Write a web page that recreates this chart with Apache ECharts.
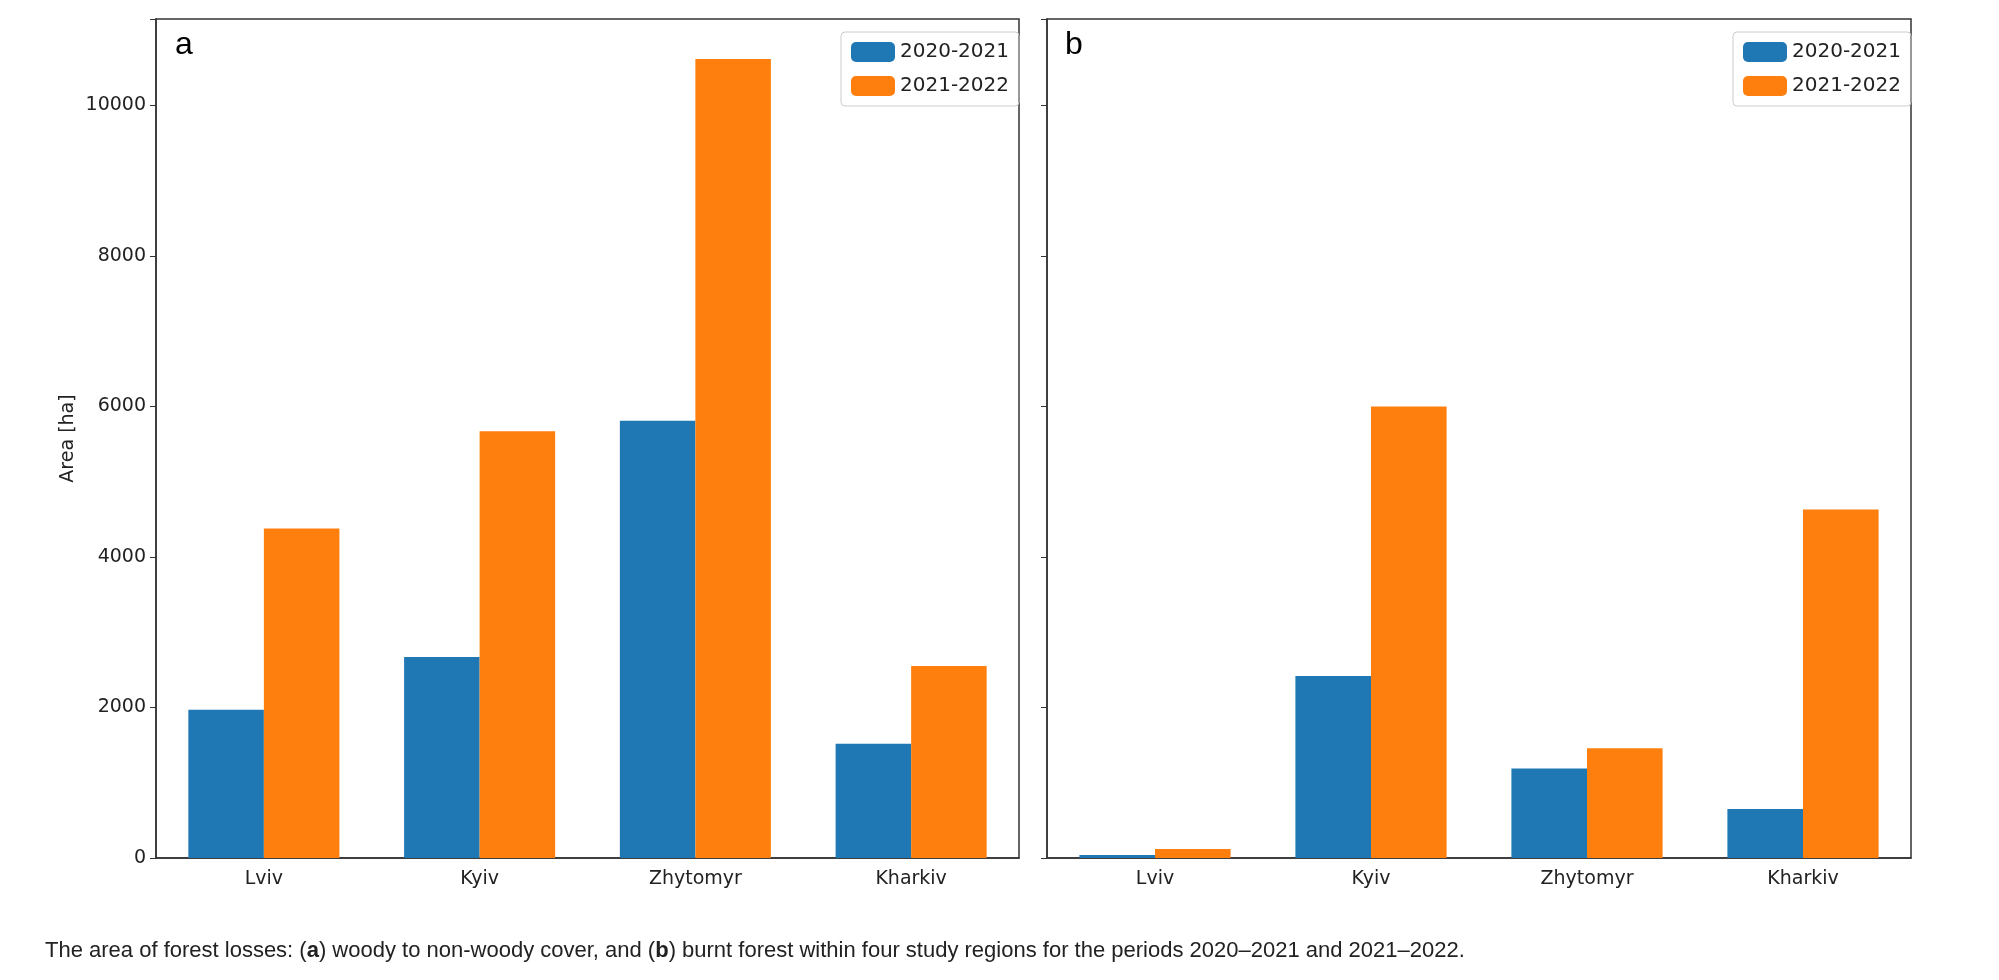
<!DOCTYPE html>
<html>
<head>
<meta charset="utf-8">
<script src="https://cdn.jsdelivr.net/npm/echarts@6/dist/echarts.min.js"></script>
<style>
  body { margin: 0; background: #fff; }
  #chart { width: 1999px; height: 980px; }
</style>
</head>
<body>
<div id="chart"></div>
<script>
// regions and periods
var regions = ['Lviv', 'Kyiv', 'Zhytomyr', 'Kharkiv'];
var periods = ['2020-2021', '2021-2022'];
// (a) woody to non-woody
var woody2021 = [1970, 2670, 5810, 1520];
var woody2022 = [4380, 5670, 10620, 2550];
// (b) burnt forest
var burnt2021 = [40, 2420, 1190, 650];
var burnt2022 = [120, 6000, 1460, 4630];
var yTicks = [0, 2000, 4000, 6000, 8000, 10000];

var blue = '#1f77b4', orange = '#ff7f0e';
var font = 'DejaVu Sans';
var chart = echarts.init(document.getElementById('chart'));

function xAxis(i) {
  return {
    type: 'category', gridIndex: i, data: regions,
    axisLine: { lineStyle: { color: '#333', width: 1.5 } },
    axisTick: { alignWithLabel: true, length: 6, lineStyle: { color: '#333' } },
    axisLabel: { color: '#222', fontSize: 19, fontFamily: font, margin: 12 }
  };
}
function yAxis(i, show) {
  return {
    type: 'value', gridIndex: i, min: 0, max: 11150, interval: 2000,
    axisLine: { show: true, lineStyle: { color: '#333', width: 1.5 } },
    axisTick: { show: true, length: 6, lineStyle: { color: '#333' } },
    splitLine: { show: false },
    axisLabel: { show: show, color: '#222', fontSize: 19, fontFamily: font, margin: 10,
      formatter: function (v) { return yTicks.indexOf(v) >= 0 ? v : ''; } },
    name: show ? 'Area [ha]' : '', nameLocation: 'middle', nameGap: 78,
    nameTextStyle: { color: '#222', fontSize: 19, fontFamily: font }
  };
}
function bar(name, data, color, i) {
  return { name: name, type: 'bar', xAxisIndex: i, yAxisIndex: i, data: data,
    barWidth: '35%', barGap: '0%', itemStyle: { color: color } };
}
function legend(right) {
  return {
    top: 32, right: right, orient: 'vertical', data: periods,
    itemWidth: 44, itemHeight: 20, itemGap: 14,
    borderColor: '#ccc', borderWidth: 1, borderRadius: 4, padding: [10, 10, 10, 10],
    textStyle: { fontSize: 20, fontFamily: font, color: '#222' }
  };
}

var option = {
  animation: false,
  grid: [
    { left: 156, top: 19, width: 863, height: 839, show: true, borderColor: '#333', borderWidth: 1.5 },
    { left: 1047, top: 19, width: 864, height: 839, show: true, borderColor: '#333', borderWidth: 1.5 }
  ],
  xAxis: [xAxis(0), xAxis(1)],
  yAxis: [yAxis(0, true), yAxis(1, false)],
  legend: [legend(980), legend(88)],
  title: [
    { text: 'a', left: 170, top: 24, textStyle: { fontSize: 32, fontWeight: 'normal', fontFamily: 'Liberation Sans', color: '#000' } },
    { text: 'b', left: 1060, top: 24, textStyle: { fontSize: 32, fontWeight: 'normal', fontFamily: 'Liberation Sans', color: '#000' } },
    { text: 'The area of forest losses: ({b|a}) woody to non-woody cover, and ({b|b}) burnt forest within four study regions for the periods 2020–2021 and 2021–2022.',
      left: 40, top: 935,
      textStyle: { fontSize: 22, fontWeight: 'normal', fontFamily: 'Liberation Sans', color: '#222',
        rich: { b: { fontSize: 22, fontWeight: 'bold', fontFamily: 'Liberation Sans', color: '#222' } } } }
  ],
  series: [
    bar(periods[0], woody2021, blue, 0),
    bar(periods[1], woody2022, orange, 0),
    bar(periods[0], burnt2021, blue, 1),
    bar(periods[1], burnt2022, orange, 1)
  ]
};
chart.setOption(option);
</script>
</body>
</html>
